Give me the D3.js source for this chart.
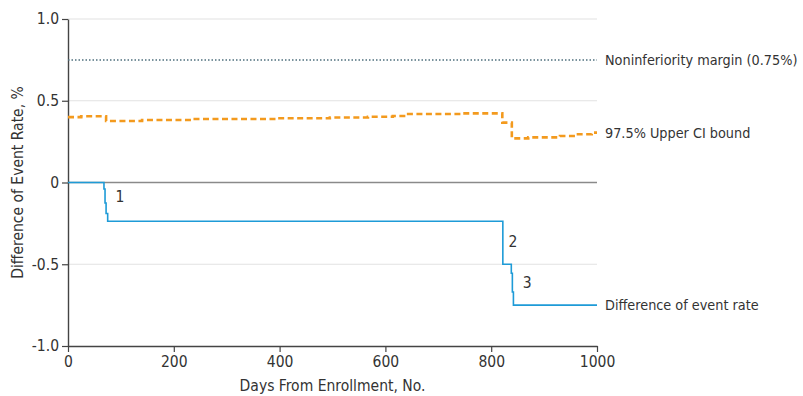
<!DOCTYPE html>
<html>
<head>
<meta charset="utf-8">
<script src="https://cdn.jsdelivr.net/npm/d3@7"></script>
<style>
  body { margin: 0; background: #fff; }
  svg text { font-family: "Liberation Sans Narrow", "DejaVu Sans Condensed", Lato, sans-serif; fill: #333; }
</style>
</head>
<body>
<svg id="chart" width="803" height="396"></svg>
<script>
// upper CI bound (97.5%), step function [day, value]
var ciDays   = [0, 25, 72, 140, 235, 397, 495, 567, 614, 643, 747, 821, 839, 870, 930, 960, 990, 1000];
var ciValues = [0.40, 0.405, 0.376, 0.382, 0.388, 0.393, 0.398, 0.402, 0.407, 0.419, 0.423, 0.366, 0.27, 0.276, 0.284, 0.295, 0.305, 0.305];

// difference of event rate, step function
var diffDays   = [0, 68, 70, 72, 75, 822, 838, 840, 842, 1000];
var diffValues = [0, -0.04, -0.125, -0.19, -0.237, -0.50, -0.555, -0.67, -0.75, -0.75];

var marginValue = 0.75;

var xTicks = [0, 200, 400, 600, 800, 1000];
var yTicks = [-1.0, -0.5, 0, 0.5, 1.0];
var yTickLabels = ["-1.0", "-0.5", "0", "0.5", "1.0"];

// numbered event markers
var eventLabels = ["1", "2", "3"];
var eventDays   = [98, 841, 868];
var eventValues = [-0.085, -0.36, -0.615];

var seriesNames = ["Noninferiority margin (0.75%)", "97.5% Upper CI bound", "Difference of event rate"];

var svg = d3.select("#chart");
var plotLeft = 68, plotRight = 597, plotTop = 19, plotBottom = 346;
var fontSize = 15.5;
var labelSize = 14.3;

var x = d3.scaleLinear().domain([0, 1000]).range([plotLeft, plotRight]);
var y = d3.scaleLinear().domain([-1, 1]).range([plotBottom, plotTop]);

// grid
svg.append("g").selectAll("line")
  .data([-0.5, 0.5, 1.0])
  .enter().append("line")
  .attr("x1", plotLeft).attr("x2", plotRight)
  .attr("y1", d => y(d)).attr("y2", d => y(d))
  .attr("stroke", "#e2e2e2").attr("stroke-width", 1.2);

// zero line
svg.append("line")
  .attr("x1", plotLeft).attr("x2", plotRight)
  .attr("y1", y(0)).attr("y2", y(0))
  .attr("stroke", "#8a8a8a").attr("stroke-width", 1.6);

// axes
var xAxis = svg.append("g")
  .attr("transform", "translate(0," + plotBottom + ")")
  .call(d3.axisBottom(x).tickValues(xTicks).tickSize(6).tickSizeOuter(0).tickPadding(4)
    .tickFormat(d3.format("d")));
var yAxis = svg.append("g")
  .attr("transform", "translate(" + plotLeft + ",0)")
  .call(d3.axisLeft(y).tickValues(yTicks).tickSize(6).tickSizeOuter(0).tickPadding(3)
    .tickFormat((d, i) => yTickLabels[i]));

[xAxis, yAxis].forEach(function(a) {
  a.select(".domain").attr("stroke", "#444").attr("stroke-width", 1.4);
  a.selectAll(".tick line").attr("stroke", "#444").attr("stroke-width", 1.2);
  a.selectAll(".tick text").attr("font-size", fontSize).style("fill", "#333")
    .attr("font-family", "Liberation Sans Narrow, DejaVu Sans Condensed, Lato, sans-serif");
});

// noninferiority margin
svg.append("line")
  .attr("x1", plotLeft).attr("x2", plotRight)
  .attr("y1", y(marginValue)).attr("y2", y(marginValue))
  .attr("stroke", "#4f6f7e").attr("stroke-width", 1.5)
  .attr("stroke-dasharray", "1.5,2");

var line = d3.line()
  .x(d => x(d[0])).y(d => y(d[1]))
  .curve(d3.curveStepAfter);

svg.append("path")
  .datum(ciDays.map((d, i) => [d, ciValues[i]]))
  .attr("d", line)
  .attr("fill", "none")
  .attr("stroke", "#f39a1e").attr("stroke-width", 2.6)
  .attr("stroke-dasharray", "6,3.5");

svg.append("path")
  .datum(diffDays.map((d, i) => [d, diffValues[i]]))
  .attr("d", line)
  .attr("fill", "none")
  .attr("stroke", "#1e9bd7").attr("stroke-width", 1.6);

// event numbers
svg.append("g").selectAll("text")
  .data(eventLabels)
  .enter().append("text")
  .attr("x", (d, i) => x(eventDays[i]))
  .attr("y", (d, i) => y(eventValues[i]))
  .attr("dy", "0.35em")
  .attr("text-anchor", "middle")
  .attr("font-size", fontSize)
  .text(d => d);

// series labels at the right
var labelValues = [marginValue, ciValues[ciValues.length - 1], diffValues[diffValues.length - 1]];
svg.append("g").selectAll("text")
  .data(seriesNames)
  .enter().append("text")
  .attr("x", plotRight + 8)
  .attr("y", (d, i) => y(labelValues[i]))
  .attr("dy", "0.35em")
  .attr("font-size", labelSize)
  .text(d => d)
  .each(function() {
    // keep the longest label inside the page
    var w = this.getComputedTextLength();
    if (plotRight + 8 + w > 801) d3.select(this).attr("textLength", 801 - plotRight - 8).attr("lengthAdjust", "spacingAndGlyphs");
  });

// axis titles
svg.append("text")
  .attr("x", (plotLeft + plotRight) / 2).attr("y", 391)
  .attr("text-anchor", "middle")
  .attr("font-size", fontSize)
  .text("Days From Enrollment, No.");

svg.append("text")
  .attr("transform", "translate(23," + ((plotTop + plotBottom) / 2) + ") rotate(-90)")
  .attr("text-anchor", "middle")
  .attr("font-size", fontSize)
  .text("Difference of Event Rate, %");
</script>
</body>
</html>
